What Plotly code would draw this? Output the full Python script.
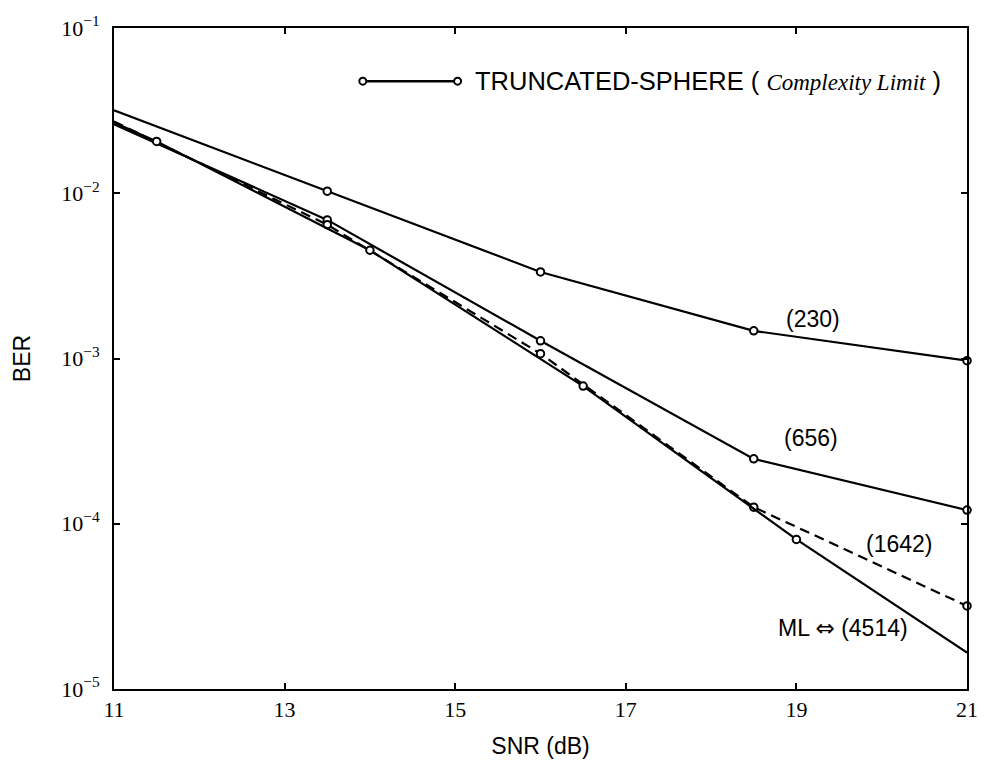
import math
import plotly.graph_objects as go

# SNR grid (dB) and bit-error rates for each complexity limit
snr_230 = [11, 13.5, 16, 18.5, 21]
ber_230 = [0.0318, 0.0103, 3.34e-3, 1.47e-3, 9.7e-4]
mk_230 = [0, 1, 1, 1, 1]

snr_656 = [11, 13.5, 16, 18.5, 21]
ber_656 = [0.0261, 6.90e-3, 1.28e-3, 2.47e-4, 1.21e-4]
mk_656 = [0, 1, 1, 1, 1]

snr_1642 = [11, 13.5, 16, 18.5, 21]
ber_1642 = [0.0272, 6.45e-3, 1.07e-3, 1.26e-4, 3.18e-5]
mk_1642 = [0, 1, 1, 1, 1]

snr_ml = [11, 11.5, 14, 16.5, 19, 21]
ber_ml = [0.0268, 0.0206, 4.52e-3, 6.81e-4, 8.04e-5, 1.66e-5]
mk_ml = [0, 1, 1, 1, 1, 0]

x_ticks = [11, 13, 15, 17, 19, 21]
y_ticks = [1e-5, 1e-4, 1e-3, 1e-2, 1e-1]
y_ticktext = ["10<sup>\u22125</sup>", "10<sup>\u22124</sup>", "10<sup>\u22123</sup>",
              "10<sup>\u22122</sup>", "10<sup>\u22121</sup>"]

# curve labels: (text, snr, ber)
labels = [
    ("(230)", 19.2, 10 ** -2.76),
    ("(656)", 19.17, 10 ** -3.48),
    ("(1642)", 20.2, 10 ** -4.125),
    ("ML <span style='font-family:DejaVu Sans'>\u21d4</span> (4514)", 19.55, 10 ** -4.63),
]

SANS = "Liberation Sans, Arial, sans-serif"
SERIF = "Liberation Serif, Times New Roman, serif"

fig = go.Figure()


def add_curve(x, y, mk, dash):
    fig.add_trace(go.Scatter(
        x=x, y=y, mode="lines+markers",
        line=dict(color="black", width=2.2, dash=dash),
        marker=dict(symbol="circle", size=7.5, color="white",
                    opacity=mk, line=dict(color="black", width=2)),
        cliponaxis=False, showlegend=False,
    ))


add_curve(snr_230, ber_230, mk_230, "solid")
add_curve(snr_656, ber_656, mk_656, "solid")
add_curve(snr_1642, ber_1642, mk_1642, "10px,6px")
add_curve(snr_ml, ber_ml, mk_ml, "solid")

for text, xv, yv in labels:
    fig.add_annotation(x=xv, y=math.log10(yv), text=text,
                       showarrow=False, xanchor="center", yanchor="middle",
                       font=dict(family=SANS, size=23, color="black"))

# legend entry: line sample with markers at both ends
lx0, lx1, ly = 0.2917, 0.4028, 0.9196
fig.add_shape(type="line", xref="paper", yref="paper", x0=lx0, x1=lx1, y0=ly, y1=ly,
              line=dict(color="black", width=2.5))
for xa in (lx0, lx1):
    fig.add_shape(type="circle", xref="paper", yref="paper",
                  xsizemode="pixel", ysizemode="pixel", xanchor=xa, yanchor=ly,
                  x0=-3.5, x1=3.5, y0=-3.5, y1=3.5,
                  line=dict(color="black", width=2), fillcolor="white")
fig.add_annotation(
    xref="paper", yref="paper", x=0.4213, y=ly, xanchor="left", yanchor="middle",
    showarrow=False,
    text=("TRUNCATED-SPHERE ( <span style='font-family:Liberation Serif;font-size:23px'>"
          "<i>Complexity Limit</i></span> )"),
    font=dict(family=SANS, size=25.5, color="black"),
)

fig.update_layout(
    width=990, height=767,
    margin=dict(l=114, r=12, t=17, b=77),
    paper_bgcolor="white", plot_bgcolor="white",
    xaxis=dict(
        range=[11, 21], tickvals=x_ticks, ticktext=[str(v) for v in x_ticks],
        ticks="inside", ticklen=6, tickwidth=2, tickcolor="black",
        showline=True, linewidth=2, linecolor="black", mirror="ticks",
        showgrid=False, zeroline=False,
        tickfont=dict(family=SERIF, size=22, color="black"),
        title=dict(text="SNR (dB)", font=dict(family=SANS, size=23, color="black"),
                   standoff=16),
    ),
    yaxis=dict(
        type="log", range=[-5, -1], tickvals=y_ticks, ticktext=y_ticktext,
        ticks="inside", ticklen=6, tickwidth=2, tickcolor="black",
        showline=True, linewidth=2, linecolor="black", mirror="ticks",
        showgrid=False, zeroline=False,
        tickfont=dict(family=SERIF, size=22, color="black"),
        ticklabelstandoff=8,
        title=dict(text="BER", font=dict(family=SANS, size=23, color="black"),
                   standoff=24),
    ),
)

fig.write_html("out.html")
